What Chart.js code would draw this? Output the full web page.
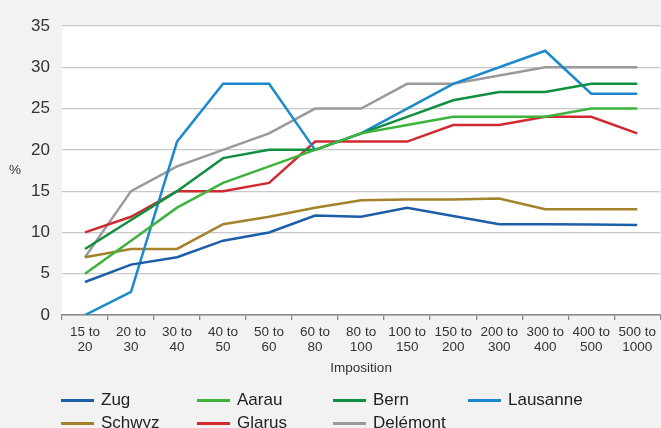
<!DOCTYPE html>
<html>
<head>
<meta charset="utf-8">
<script src="https://cdn.jsdelivr.net/npm/chart.js@4.4.1/dist/chart.umd.min.js"></script>
<style>
  html, body { margin: 0; padding: 0; background: #f2f2f2; overflow: hidden; }
  #wrap { position: relative; width: 661px; height: 428px; }
  #c { position: absolute; left: 0; top: 0; }
  .pct { position: absolute; left: 9px; top: 162px; font: 13.5px "Liberation Sans", Arial, sans-serif; color: #333; }
  .lg { position: absolute; height: 20px; font: 17px "Liberation Sans", Arial, sans-serif; color: #222; white-space: nowrap; }
  .lg span.m { position: absolute; left: 0; top: 9px; width: 33px; height: 3px; }
  .lg span.t { position: absolute; left: 40px; top: 0; line-height: 20px; }
</style>
</head>
<body>
<div id="wrap">
  <canvas id="c" width="661" height="428"></canvas>
  <div class="pct">%</div>
  <div id="legend"></div>
</div>
<script>
const categories = [
  ['15 to','20'], ['20 to','30'], ['30 to','40'], ['40 to','50'], ['50 to','60'],
  ['60 to','80'], ['80 to','100'], ['100 to','150'], ['150 to','200'], ['200 to','300'],
  ['300 to','400'], ['400 to','500'], ['500 to','1000']
];
const zug      = [4, 6.1, 7, 9, 10, 12.05, 11.9, 13, 12, 11, 11, 10.95, 10.9];
const aarau    = [5, 9, 13, 16, 18, 20, 22, 23, 24, 24, 24, 25, 25];
const bern     = [8, 11.5, 15, 19, 20, 20, 22, 24, 26, 27, 27, 28, 28];
const lausanne = [0, 2.8, 21, 28, 28, 20, 22, 25, 28, 30, 32, 26.8, 26.8];
const schwyz   = [7, 8, 8, 11, 11.9, 13, 13.9, 14, 14, 14.1, 12.8, 12.8, 12.8];
const glarus   = [10, 11.9, 15, 15, 16, 21, 21, 21, 23, 23, 24, 24, 22];
const delemont = [7, 15, 18, 20, 22, 25, 25, 28, 28, 29, 30, 30, 30];
const yTicks   = [0, 5, 10, 15, 20, 25, 30, 35];
const xTitle   = 'Imposition';

const seriesNames  = ['Zug', 'Aarau', 'Bern', 'Lausanne', 'Schwyz', 'Glarus', 'Delémont'];
const seriesData   = [zug, aarau, bern, lausanne, schwyz, glarus, delemont];
const seriesColors = ['#1d5ea8', '#3cb43c', '#0f8f3f', '#1c89cc', '#a3822a', '#d02a30', '#9a9a9a'];

const whiteArea = {
  id: 'whiteArea',
  beforeDraw(chart) {
    const {ctx, chartArea: a} = chart;
    ctx.save();
    ctx.fillStyle = '#ffffff';
    ctx.fillRect(a.left, a.top, a.right - a.left, a.bottom - a.top);
    ctx.restore();
  }
};

new Chart(document.getElementById('c'), {
  type: 'line',
  data: {
    labels: categories,
    datasets: seriesData.map((d, i) => ({
      label: seriesNames[i],
      data: d,
      borderColor: seriesColors[i],
      backgroundColor: seriesColors[i],
      borderWidth: 2.5,
      pointRadius: 0,
      tension: 0,
      fill: false
    }))
  },
  options: {
    responsive: false,
    animation: false,
    layout: { padding: { left: 0, right: 0, top: 26, bottom: 52 } },
    plugins: { legend: { display: false }, tooltip: { enabled: false } },
    scales: {
      x: {
        offset: true,
        grid: { offset: true, drawOnChartArea: false, drawTicks: true, tickLength: 5, color: '#888', lineWidth: 1.3 },
        border: { display: true, color: '#888', width: 1.5 },
        ticks: { color: '#333', padding: 5, maxRotation: 0, autoSkip: false,
                 font: { family: '"Liberation Sans", Arial, sans-serif', size: 13.5, lineHeight: 1.11 } },
        title: { display: true, text: xTitle, color: '#333', padding: { top: 4, bottom: 0 },
                 font: { family: '"Liberation Sans", Arial, sans-serif', size: 13.5 } },
        afterFit(scale) { scale.height = 61; }
      },
      y: {
        min: 0, max: 35,
        afterBuildTicks(scale) { scale.ticks = yTicks.map(v => ({ value: v })); },
        grid: { drawTicks: false, color: '#c8c8c8', lineWidth: 1.2 },
        border: { display: false },
        ticks: { color: '#333', padding: 12,
                 font: { family: '"Liberation Sans", Arial, sans-serif', size: 17 } },
        afterFit(scale) { scale.width = 62; }
      }
    }
  },
  plugins: [whiteArea]
});

// legend (4 columns grid)
const colX = [61, 197, 333, 468];
const rowY = [390, 413];
const lg = document.getElementById('legend');
seriesNames.forEach((n, i) => {
  const el = document.createElement('div');
  el.className = 'lg';
  el.style.left = colX[i % 4] + 'px';
  el.style.top = rowY[Math.floor(i / 4)] + 'px';
  el.innerHTML = '<span class="m" style="background:' + seriesColors[i] + '"></span><span class="t">' + n + '</span>';
  lg.appendChild(el);
});
</script>
</body>
</html>
